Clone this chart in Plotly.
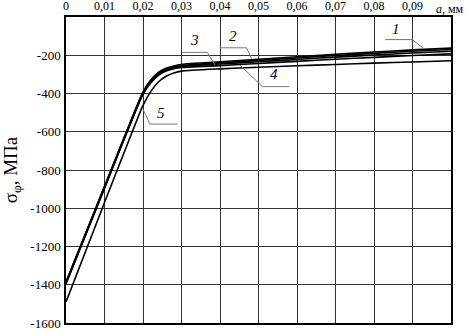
import plotly.graph_objects as go

# depth a, mm
a_mm = [0, 0.01, 0.018, 0.02, 0.022, 0.024, 0.026, 0.028, 0.03, 0.04, 0.05, 0.06, 0.07, 0.08, 0.09, 0.1]

# sigma_phi, MPa for curves 1..5
curve1 = [-1385, -885, -485, -392, -330, -290, -268, -256, -248, -234, -221, -208, -195, -183, -172, -163]
curve2 = [-1388, -888, -488, -396, -335, -295, -273, -261, -253, -240, -227, -214, -201, -190, -179, -170]
curve3 = [-1392, -892, -492, -400, -340, -300, -278, -266, -258, -246, -234, -222, -210, -199, -188, -179]
curve4 = [-1396, -896, -496, -404, -345, -305, -283, -271, -264, -254, -243, -232, -221, -211, -201, -193]
curve5 = [-1490, -970, -560, -462, -390, -340, -310, -293, -283, -271, -263, -255, -248, -241, -235, -229]

series = [curve1, curve2, curve3, curve4, curve5]

x_ticks = [0, 0.01, 0.02, 0.03, 0.04, 0.05, 0.06, 0.07, 0.08, 0.09]
x_tick_text = ["0", "0,01", "0,02", "0,03", "0,04", "0,05", "0,06", "0,07", "0,08", "0,09"]
y_ticks = [-1600, -1400, -1200, -1000, -800, -600, -400, -200]
y_tick_text = ["-1600", "-1400", "-1200", "-1000", "-800", "-600", "-400", "-200"]

# curve labels: text, label position, leader polyline (x list, y list)
labels = ["1", "2", "3", "4", "5"]
label_pos = [(0.0858, -65), (0.0433, -100), (0.0333, -122), (0.0539, -300), (0.0248, -502)]
leaders = [
    ([0.0829, 0.0899, 0.0929], [-118, -118, -164]),
    ([0.0400, 0.0469, 0.0482], [-161, -161, -217]),
    ([0.0301, 0.0367, 0.0387], [-185, -185, -251]),
    ([0.0452, 0.0510, 0.0580], [-251, -364, -364]),
    ([0.0200, 0.0218, 0.0290], [-483, -560, -560]),
]

serif = "Liberation Serif, Times New Roman, serif"

fig = go.Figure()
for ys in series:
    fig.add_trace(go.Scatter(x=a_mm, y=ys, mode="lines", line=dict(color="black", width=1.6, shape="spline", smoothing=0.6),
                             showlegend=False, hoverinfo="skip"))

for (lx, ly) in leaders:
    fig.add_trace(go.Scatter(x=lx, y=ly, mode="lines", line=dict(color="#777777", width=1),
                             showlegend=False, hoverinfo="skip"))

for t, (px, py) in zip(labels, label_pos):
    fig.add_annotation(x=px, y=py, text="<i>" + t + "</i>", showarrow=False,
                       font=dict(family=serif, size=15, color="black"))

fig.add_annotation(x=0.0955, y=1.0, yref="paper", xanchor="left", yanchor="bottom", yshift=-1,
                   text="<i>a</i>, мм", showarrow=False, font=dict(family=serif, size=12, color="black"))

fig.update_layout(
    width=467, height=332,
    margin=dict(l=66, r=16, t=17, b=9),
    paper_bgcolor="white", plot_bgcolor="white",
    font=dict(family=serif, size=13, color="black"),
    xaxis=dict(side="top", range=[0, 0.1], tickvals=x_ticks, ticktext=x_tick_text,
               showgrid=True, gridcolor="#333333", gridwidth=1, automargin=False,
               showline=True, linecolor="black", linewidth=1.5, mirror=True,
               ticks="", ticklabelstandoff=0, zeroline=False, tickfont=dict(size=12)),
    yaxis=dict(range=[-1600, 0], tickvals=y_ticks, ticktext=y_tick_text,
               showgrid=True, gridcolor="#333333", gridwidth=1, automargin=False,
               showline=True, linecolor="black", linewidth=1.5, mirror=True,
               ticks="", zeroline=False, ticklabelstandoff=1,
               title=dict(text="σ<sub>φ</sub>, МПа", font=dict(family=serif, size=19), standoff=9)),
)

fig.write_html("out.html", config={"displayModeBar": False},
               post_script="document.body.style.margin='0px';document.body.style.overflow='hidden';")
